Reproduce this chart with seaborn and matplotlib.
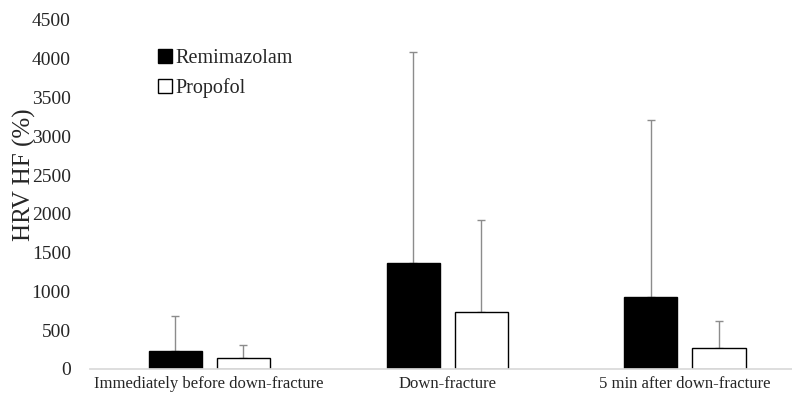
import matplotlib.pyplot as plt
import seaborn as sns
import pandas as pd

# values
phases = ['Immediately before down-fracture', 'Down-fracture', '5 min after down-fracture']
groups = ['Remimazolam', 'Propofol']
remi_mean = [232, 1367, 928]
remi_sd = [451, 2721, 2282]
prop_mean = [142, 735, 270]
prop_sd = [168, 1186, 349]

df = pd.DataFrame({
    'phase': phases * 2,
    'group': [groups[0]] * 3 + [groups[1]] * 3,
    'value': remi_mean + prop_mean,
    'sd': remi_sd + prop_sd,
})

sns.set_theme(style="white")
plt.rcParams['font.family'] = ['Liberation Serif', 'DejaVu Serif']

fig, ax = plt.subplots(figsize=(7.92, 3.98), dpi=100)
sns.barplot(data=df, x='phase', y='value', hue='group', hue_order=groups,
            palette={'Remimazolam': 'black', 'Propofol': 'white'},
            edgecolor='black', linewidth=1.0, width=0.572, gap=0.22,
            errorbar=None, ax=ax)

# upward-only error bars at the bar centres
bars = [p for p in ax.patches if p.get_height() > 0]
for bar in bars:
    cx = bar.get_x() + bar.get_width() / 2
    h = bar.get_height()
    row = df[(df['value'] == h)]
    sd = row['sd'].iloc[0]
    ax.errorbar(cx, h, yerr=[[0], [sd]], fmt='none', ecolor='#8c8c8c',
                elinewidth=1.0, capsize=3, capthick=1.0, zorder=0.5)

ax.set_ylim(0, 4500)
ax.set_yticks(range(0, 4501, 500))
ax.set_xlim(-0.5, 2.45)
for s in ['top', 'right', 'left']:
    ax.spines[s].set_visible(False)
ax.spines['bottom'].set_color('#d9d9d9')
ax.tick_params(axis='both', length=0)
ax.tick_params(axis='y', labelsize=14, pad=14)
ax.tick_params(axis='x', labelsize=12, pad=5)
ax.set_xlabel('')
ax.set_ylabel('HRV HF (%)', fontsize=18)
ax.yaxis.set_label_coords(-0.078, 0.556)

leg = ax.legend(loc='upper left', bbox_to_anchor=(0.07, 0.968), frameon=False,
                fontsize=14.5, handlelength=0.7, handleheight=0.7,
                handletextpad=0.2, labelspacing=0.5)

fig.subplots_adjust(left=0.114, right=1.0, top=0.95, bottom=0.073)
fig.savefig('out.png', dpi=100)
